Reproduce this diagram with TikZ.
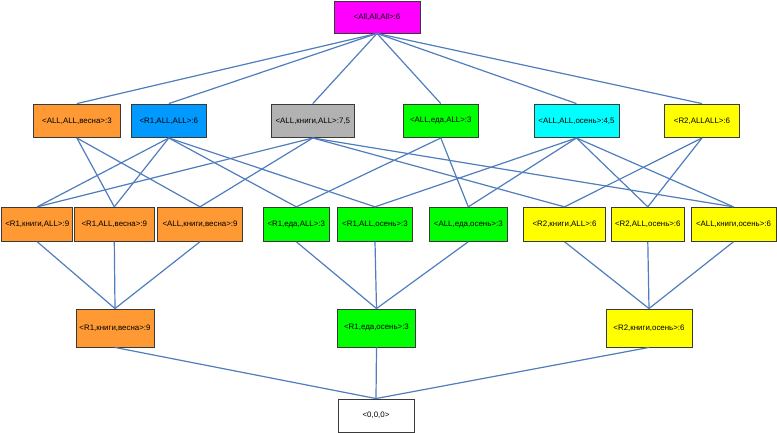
\documentclass[tikz,border=0pt]{standalone}
\usepackage{fontspec}
\setmainfont{Liberation Sans}
\definecolor{cOrange}{HTML}{FF9933}
\definecolor{cBlue}{HTML}{0099FF}
\definecolor{cGray}{HTML}{B2B2B2}
\definecolor{cGreen}{HTML}{00FF00}
\definecolor{cCyan}{HTML}{00FFFF}
\definecolor{cYellow}{HTML}{FFFF00}
\definecolor{cMag}{HTML}{FF00FF}
\definecolor{cBorder}{HTML}{3A3A3A}
\definecolor{cLine}{HTML}{4F7DBE}
\begin{document}
\begin{tikzpicture}[x=1pt,y=-1pt,
  box/.style={draw=cBorder, line width=0.9pt, inner sep=0pt, align=center,
    font=\fontsize{7.9}{9}\selectfont},
  r2/.style={box, minimum height=33.5pt},
  r3/.style={box, minimum height=34pt},
  r4/.style={box, minimum height=38pt},
  conn/.style={draw=cLine, line width=1.2pt}]
\useasboundingbox (0,0) rectangle (777,433);
% top
\node[box, fill=cMag, minimum width=86pt, minimum height=32pt] (top) at (377,17) {<All,All,All>:6};
% row 2
\node[r2, fill=cOrange, minimum width=87.7pt] (a) at (76.9,120.8) {<ALL,ALL,весна>:3};
\node[r2, fill=cBlue, minimum width=75.7pt] (b) at (168.8,120.8) {<R1,ALL,ALL>:6};
\node[r2, fill=cGray, minimum width=82.3pt] (c) at (312.8,120.8) {<ALL,книги,ALL>:7,5};
\node[r2, fill=cGreen, minimum width=75.7pt] (d) at (440.8,120.8) {<ALL,еда,ALL>:3};
\node[r2, fill=cCyan, minimum width=85pt] (e) at (576.5,120.8) {<ALL,ALL,осень>:4,5};
\node[r2, fill=cYellow, minimum width=75.7pt] (f) at (702,120.8) {<R2,ALLALL>:6};
% row 3
\node[r3, fill=cOrange, minimum width=71pt] (rkA) at (37.2,224.3) {<R1,книги,ALL>:9};
\node[r3, fill=cOrange, minimum width=79.3pt] (rAv) at (114.3,224.3) {<R1,ALL,весна>:9};
\node[r3, fill=cOrange, minimum width=84.6pt] (Akv) at (200,224.3) {<ALL,книги,весна>:9};
\node[r3, fill=cGreen, minimum width=66pt] (reA) at (296.3,224.3) {<R1,еда,ALL>:3};
\node[r3, fill=cGreen, minimum width=75.4pt] (rAo) at (375,224.3) {<R1,ALL,осень>:3};
\node[r3, fill=cGreen, minimum width=78pt] (Aeo) at (468.3,224.3) {<ALL,еда,осень>:3};
\node[r3, fill=cYellow, minimum width=82.4pt] (skA) at (564.5,224.3) {<R2,книги,ALL>:6};
\node[r3, fill=cYellow, minimum width=73.7pt] (sAo) at (647.8,224.3) {<R2,ALL,осень>:6};
\node[r3, fill=cYellow, minimum width=85pt] (Ako) at (733.5,224.3) {<ALL,книги,осень>:6};
% row 4
\node[r4, fill=cOrange, minimum width=78pt] (rkv) at (115,328) {<R1,книги,весна>:9};
\node[r4, fill=cGreen, minimum width=78pt] (reo) at (376.5,328) {<R1,еда,осень>:3};
\node[r4, fill=cYellow, minimum width=86pt] (sko) at (649,328) {<R2,книги,осень>:6};
% bottom
\node[box, fill=white, minimum width=76pt, minimum height=33pt] (bot) at (376,415.5) {<0,0,0>};
% connectors
\foreach \n in {a,b,c,d,e,f} \draw[conn] (top.south) -- (\n.north);
\draw[conn] (a.south) -- (rAv.north);
\draw[conn] (a.south) -- (Akv.north);
\draw[conn] (b.south) -- (rkA.north);
\draw[conn] (b.south) -- (rAv.north);
\draw[conn] (b.south) -- (reA.north);
\draw[conn] (b.south) -- (rAo.north);
\draw[conn] (c.south) -- (rkA.north);
\draw[conn] (c.south) -- (Akv.north);
\draw[conn] (c.south) -- (skA.north);
\draw[conn] (c.south) -- (Ako.north);
\draw[conn] (d.south) -- (reA.north);
\draw[conn] (d.south) -- (Aeo.north);
\draw[conn] (e.south) -- (rAo.north);
\draw[conn] (e.south) -- (Aeo.north);
\draw[conn] (e.south) -- (sAo.north);
\draw[conn] (e.south) -- (Ako.north);
\draw[conn] (f.south) -- (skA.north);
\draw[conn] (f.south) -- (sAo.north);
\foreach \n in {rkA,rAv,Akv} \draw[conn] (\n.south) -- (rkv.north);
\foreach \n in {reA,rAo,Aeo} \draw[conn] (\n.south) -- (reo.north);
\foreach \n in {skA,sAo,Ako} \draw[conn] (\n.south) -- (sko.north);
\foreach \n in {rkv,reo,sko} \draw[conn] (\n.south) -- (bot.north);
\end{tikzpicture}
\end{document}
